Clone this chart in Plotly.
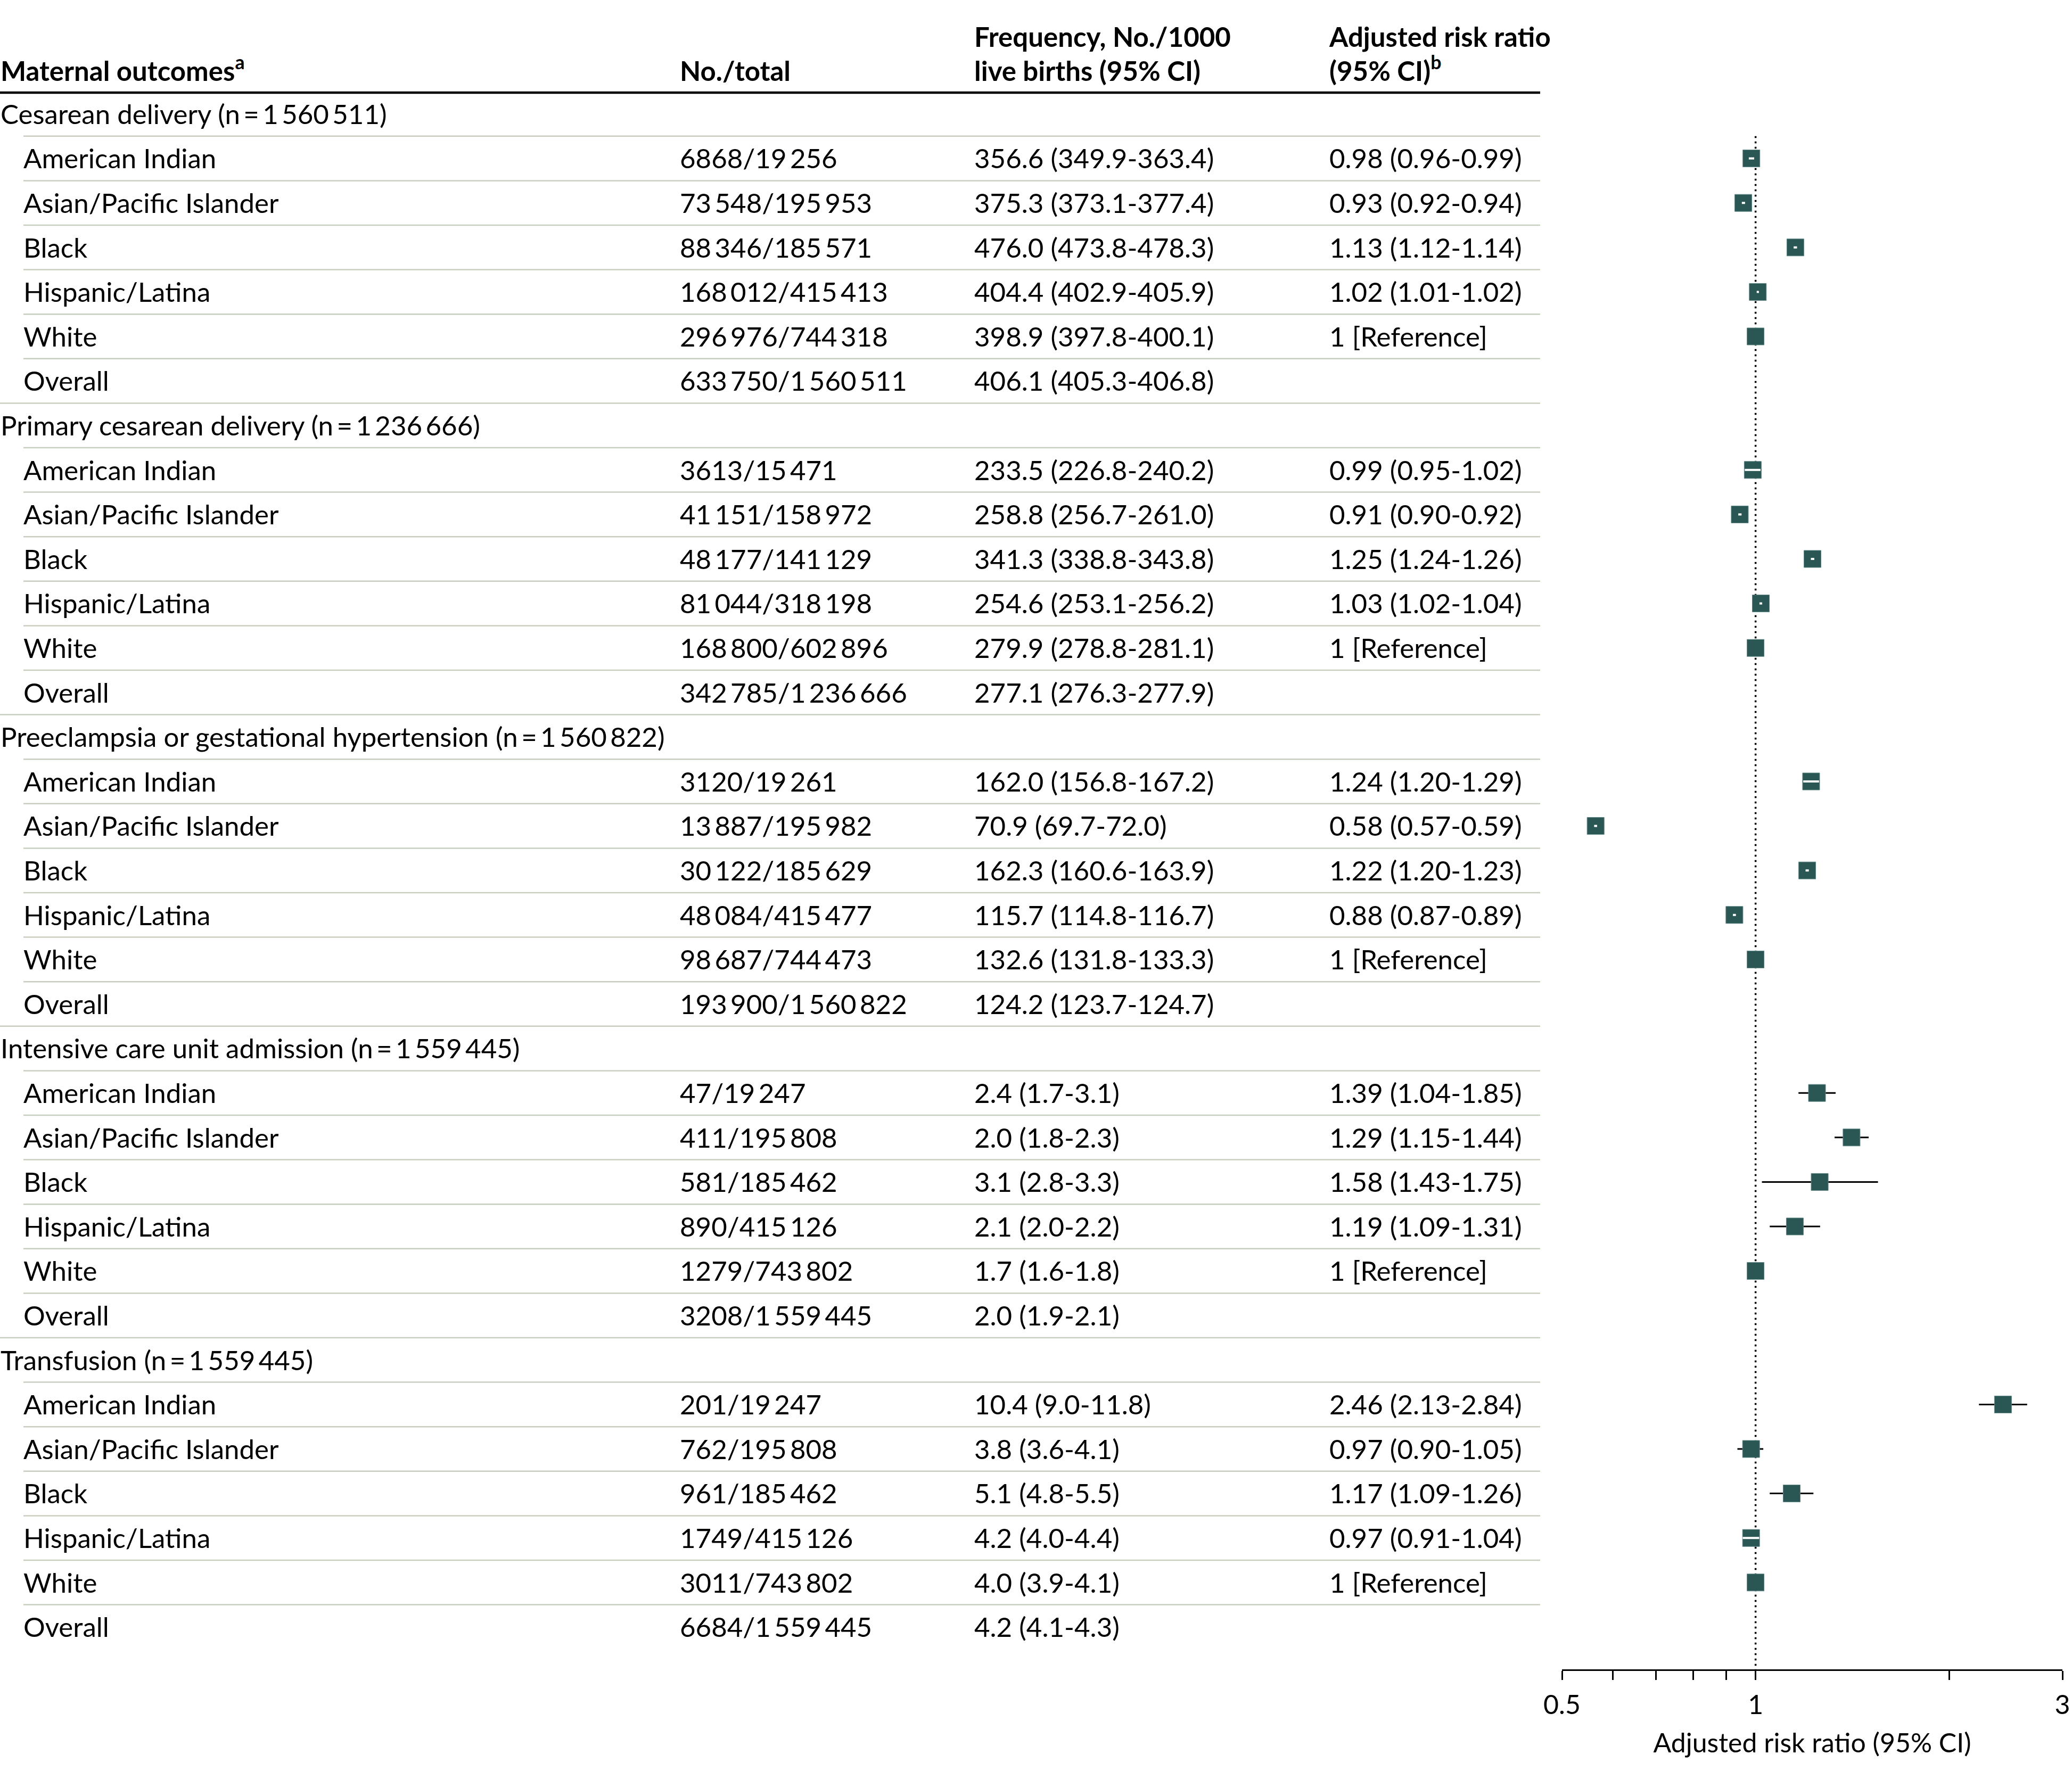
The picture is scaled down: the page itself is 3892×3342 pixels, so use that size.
import math
import plotly.graph_objects as go

W, H = 3892, 3342
THIN = "\u2009"
FONT = "Lato"
FS = 51

# ---------------- data ----------------
outcomes = ["Cesarean delivery", "Primary cesarean delivery",
            "Preeclampsia or gestational hypertension",
            "Intensive care unit admission", "Transfusion"]
outcome_n = ["1 560 511", "1 236 666", "1 560 822", "1 559 445", "1 559 445"]
groups = ["American Indian", "Asian/Pacific Islander", "Black",
          "Hispanic/Latina", "White", "Overall"]

no_total = [
    ["6868/19 256", "73 548/195 953", "88 346/185 571", "168 012/415 413", "296 976/744 318", "633 750/1 560 511"],
    ["3613/15 471", "41 151/158 972", "48 177/141 129", "81 044/318 198", "168 800/602 896", "342 785/1 236 666"],
    ["3120/19 261", "13 887/195 982", "30 122/185 629", "48 084/415 477", "98 687/744 473", "193 900/1 560 822"],
    ["47/19 247", "411/195 808", "581/185 462", "890/415 126", "1279/743 802", "3208/1 559 445"],
    ["201/19 247", "762/195 808", "961/185 462", "1749/415 126", "3011/743 802", "6684/1 559 445"],
]
frequency = [
    ["356.6 (349.9-363.4)", "375.3 (373.1-377.4)", "476.0 (473.8-478.3)", "404.4 (402.9-405.9)", "398.9 (397.8-400.1)", "406.1 (405.3-406.8)"],
    ["233.5 (226.8-240.2)", "258.8 (256.7-261.0)", "341.3 (338.8-343.8)", "254.6 (253.1-256.2)", "279.9 (278.8-281.1)", "277.1 (276.3-277.9)"],
    ["162.0 (156.8-167.2)", "70.9 (69.7-72.0)", "162.3 (160.6-163.9)", "115.7 (114.8-116.7)", "132.6 (131.8-133.3)", "124.2 (123.7-124.7)"],
    ["2.4 (1.7-3.1)", "2.0 (1.8-2.3)", "3.1 (2.8-3.3)", "2.1 (2.0-2.2)", "1.7 (1.6-1.8)", "2.0 (1.9-2.1)"],
    ["10.4 (9.0-11.8)", "3.8 (3.6-4.1)", "5.1 (4.8-5.5)", "4.2 (4.0-4.4)", "4.0 (3.9-4.1)", "4.2 (4.1-4.3)"],
]
arr_label = [
    ["0.98 (0.96-0.99)", "0.93 (0.92-0.94)", "1.13 (1.12-1.14)", "1.02 (1.01-1.02)", "1 [Reference]", ""],
    ["0.99 (0.95-1.02)", "0.91 (0.90-0.92)", "1.25 (1.24-1.26)", "1.03 (1.02-1.04)", "1 [Reference]", ""],
    ["1.24 (1.20-1.29)", "0.58 (0.57-0.59)", "1.22 (1.20-1.23)", "0.88 (0.87-0.89)", "1 [Reference]", ""],
    ["1.39 (1.04-1.85)", "1.29 (1.15-1.44)", "1.58 (1.43-1.75)", "1.19 (1.09-1.31)", "1 [Reference]", ""],
    ["2.46 (2.13-2.84)", "0.97 (0.90-1.05)", "1.17 (1.09-1.26)", "0.97 (0.91-1.04)", "1 [Reference]", ""],
]
# point estimates and CIs as drawn in the forest plot
rr_est = [
    [0.985, 0.957, 1.153, 1.008, 1.0],
    [0.990, 0.945, 1.226, 1.019, 1.0],
    [1.220, 0.564, 1.203, 0.927, 1.0],
    [1.246, 1.410, 1.258, 1.151, 1.0],
    [2.425, 0.984, 1.138, 0.984, 1.0],
]
rr_lo = [
    [0.976, 0.952, 1.146, 1.004, None],
    [0.962, 0.940, 1.219, 1.014, None],
    [1.186, 0.561, 1.196, 0.922, None],
    [1.166, 1.327, 1.023, 1.052, None],
    [2.225, 0.937, 1.052, 0.955, None],
]
rr_hi = [
    [0.995, 0.963, 1.160, 1.012, None],
    [1.018, 0.951, 1.234, 1.024, None],
    [1.255, 0.567, 1.210, 0.932, None],
    [1.332, 1.499, 1.550, 1.260, None],
    [2.644, 1.028, 1.230, 1.013, None],
]
major_ticks = [0.5, 1, 3]
major_ticktext = ["0.5", "1", "3"]
minor_ticks = [0.6, 0.7, 0.8, 0.9, 2]


def thin(s):
    return s.replace(" ", THIN)


# ---------------- layout constants ----------------
ROW0, PITCH = 214.0, 83.6
TEXT_DY = 6.0 / PITCH  # text baseline nudge so glyphs sit centred in rows


def row_at(py):
    return (py - ROW0) / PITCH


X_LABEL, X_SUB, X_COUNT, X_FREQ, X_ARR = 1, 44, 1277, 1830, 2497
TABLE_RIGHT = 2893
AX_L, AX_R = 2934, 3874
AX_Y = 3137
SQ = 33
LINE_GREY = "#c8cebf"
TEAL = "#2a5653"
px_per_ln = (AX_R - AX_L) / math.log(3 / 0.5)
half_ln = (SQ / 2) / px_per_ln

fig = go.Figure()

# ---------------- table text ----------------
lab_x, lab_y, lab_t = [], [], []
cnt_y, cnt_t, frq_t = [], [], []
arr_y, arr_t = [], []
for g, name in enumerate(outcomes):
    base = 7 * g
    lab_x.append(X_LABEL)
    lab_y.append(base + TEXT_DY)
    lab_t.append(f"{name} (n{THIN}={THIN}{thin(outcome_n[g])})")
    for k, grp in enumerate(groups):
        r = base + k + 1 + TEXT_DY
        lab_x.append(X_SUB)
        lab_y.append(r)
        lab_t.append(grp)
        cnt_y.append(r)
        cnt_t.append(thin(no_total[g][k]))
        frq_t.append(frequency[g][k])
        if arr_label[g][k]:
            arr_y.append(r)
            arr_t.append(arr_label[g][k])

txt_font = dict(family=FONT, size=FS, color="black")
fig.add_trace(go.Scatter(x=lab_x, y=lab_y, text=lab_t, mode="text",
                         textposition="middle right", textfont=txt_font,
                         xaxis="x", yaxis="y", hoverinfo="skip"))
for xc, ys, tx in [(X_COUNT, cnt_y, cnt_t), (X_FREQ, cnt_y, frq_t), (X_ARR, arr_y, arr_t)]:
    fig.add_trace(go.Scatter(x=[xc] * len(ys), y=ys, text=tx, mode="text",
                             textposition="middle right", textfont=txt_font,
                             xaxis="x", yaxis="y", hoverinfo="skip"))

# column headers
hdr_x = [X_LABEL, X_COUNT, X_FREQ, X_FREQ, X_ARR, X_ARR]
hdr_y = [row_at(139), row_at(139), row_at(75), row_at(139), row_at(75), row_at(139)]
hdr_t = ["Maternal outcomes<sup>a</sup>", "No./total", "Frequency, No./1000",
         "live births (95% CI)", "Adjusted risk ratio", "(95% CI)<sup>b</sup>"]
fig.add_trace(go.Scatter(x=hdr_x, y=hdr_y, text=hdr_t, mode="text",
                         textposition="middle right",
                         textfont=dict(family=FONT, size=FS, color="black", weight=700),
                         xaxis="x", yaxis="y", hoverinfo="skip"))

# ---------------- table rules ----------------
shapes = [dict(type="line", xref="x", yref="y", x0=0, x1=TABLE_RIGHT,
               y0=row_at(174), y1=row_at(174), line=dict(color="black", width=4.5))]
for g in range(len(outcomes)):
    base = 7 * g
    for k in range(6):
        yy = base + k + 0.5
        shapes.append(dict(type="line", xref="x", yref="y", x0=X_SUB, x1=TABLE_RIGHT,
                           y0=yy, y1=yy, line=dict(color=LINE_GREY, width=2.5)))
    if g < len(outcomes) - 1:
        yy = base + 6.5
        shapes.append(dict(type="line", xref="x", yref="y", x0=0, x1=TABLE_RIGHT,
                           y0=yy, y1=yy, line=dict(color=LINE_GREY, width=2.5)))

# long tick at 1
ax_pos = 1 - AX_Y / H
shapes.append(dict(type="line", xref="x2", yref="paper", x0=0, x1=0,
                   y0=ax_pos, y1=ax_pos - 29 / H, line=dict(color="black", width=3)))

# ---------------- forest plot ----------------
fig.add_trace(go.Scatter(x=[1, 1], y=[0.5, row_at(AX_Y)], mode="lines",
                         line=dict(color="black", width=3.5, dash="3.5px,6.5px"),
                         xaxis="x2", yaxis="y", hoverinfo="skip"))

ci_x, ci_y, in_x, in_y, pt_x, pt_y = [], [], [], [], [], []
for g in range(len(outcomes)):
    for k in range(5):
        r = 7 * g + k + 1
        e, lo, hi = rr_est[g][k], rr_lo[g][k], rr_hi[g][k]
        pt_x.append(e)
        pt_y.append(r)
        if lo is None:
            continue
        inside = math.log(lo / e) >= -half_ln and math.log(hi / e) <= half_ln
        if inside:
            in_x += [lo, hi, None]
            in_y += [r, r, None]
        else:
            ci_x += [lo, hi, None]
            ci_y += [r, r, None]

fig.add_trace(go.Scatter(x=ci_x, y=ci_y, mode="lines", line=dict(color="black", width=3),
                         xaxis="x2", yaxis="y", hoverinfo="skip"))
fig.add_trace(go.Scatter(x=pt_x, y=pt_y, mode="markers",
                         marker=dict(symbol="square", size=SQ - 1, color=TEAL,
                                     line=dict(color="#5e8886", width=1)),
                         xaxis="x2", yaxis="y", hoverinfo="skip"))
fig.add_trace(go.Scatter(x=in_x, y=in_y, mode="lines", line=dict(color="white", width=4),
                         xaxis="x2", yaxis="y", hoverinfo="skip"))

fig.update_layout(
    width=W, height=H, autosize=False,
    margin=dict(l=0, r=0, t=0, b=0, pad=0, autoexpand=False),
    paper_bgcolor="white", plot_bgcolor="rgba(0,0,0,0)",
    showlegend=False, hovermode=False,
    font=dict(family=FONT, size=FS, color="black"),
    shapes=shapes,
    xaxis=dict(domain=[0, 1], range=[0, W], visible=False, fixedrange=True,
               automargin=False),
    yaxis=dict(domain=[0, 1], range=[row_at(H), row_at(0)], visible=False,
               fixedrange=True, automargin=False),
    xaxis2=dict(type="log", domain=[AX_L / W, AX_R / W],
                range=[math.log10(0.5), math.log10(3)],
                anchor="free", position=ax_pos, automargin=False,
                showline=True, linecolor="black", linewidth=3,
                ticks="outside", ticklen=17, tickwidth=3, tickcolor="black",
                tickmode="array", tickvals=major_ticks, ticktext=major_ticktext,
                minor=dict(tickmode="array", tickvals=minor_ticks, ticks="outside",
                           ticklen=17, tickwidth=3, tickcolor="black", showgrid=False),
                tickfont=dict(family=FONT, size=50, color="black"),
                ticklabelstandoff=4,
                showgrid=False, zeroline=False, fixedrange=True,
                title=dict(text="Adjusted risk ratio (95% CI)",
                           font=dict(family=FONT, size=50, color="black"),
                           standoff=26)),
)

fig.write_html("out.html",
               config={"displayModeBar": False, "staticPlot": True},
               post_script="document.body.style.margin='0';document.body.style.padding='0';")
